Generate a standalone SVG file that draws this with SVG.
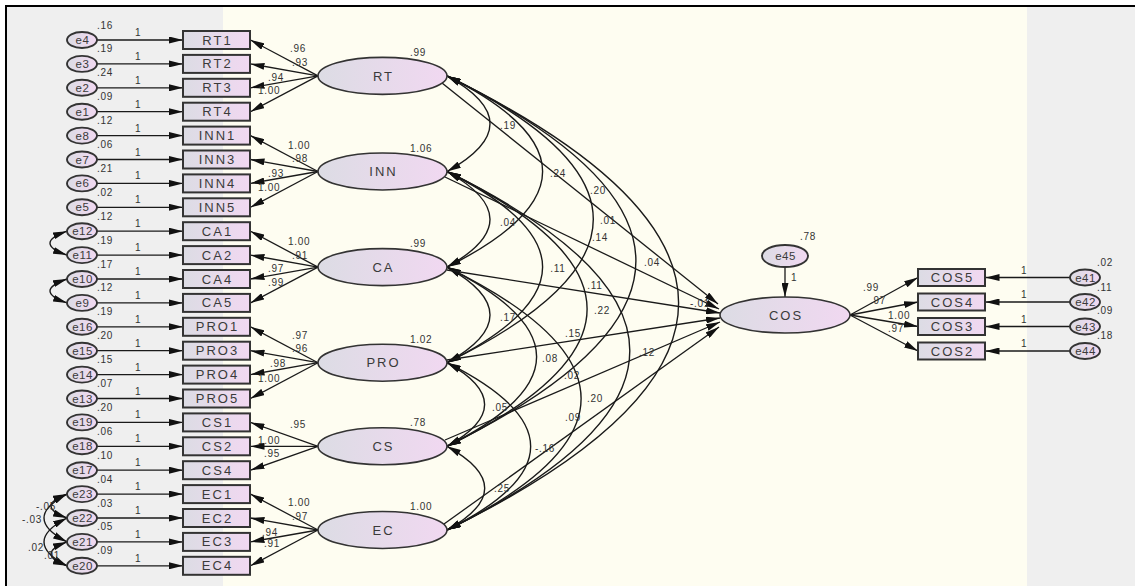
<svg xmlns="http://www.w3.org/2000/svg" width="1135" height="586" viewBox="0 0 1135 586">
<defs>
  <linearGradient id="fillG" x1="0" y1="0" x2="1" y2="0">
    <stop offset="0" stop-color="#dcdce4"/>
    <stop offset="1" stop-color="#f1d8f1"/>
  </linearGradient>
  <marker id="ah" viewBox="0 0 14 7" refX="14" refY="3.5" markerWidth="14" markerHeight="7" markerUnits="userSpaceOnUse" orient="auto-start-reverse">
    <path d="M0,0 L14,3.5 L0,7 z" fill="#111"/>
  </marker>
  <style>
    .box{fill:url(#fillG);stroke:#333;stroke-width:2}
    .lat{fill:url(#fillG);stroke:#333;stroke-width:1.6}
    .err{fill:url(#fillG);stroke:#333;stroke-width:1.9}
    .nm{font-family:"Liberation Sans",Arial,sans-serif;font-size:13px;letter-spacing:2px;fill:#3a3a3a;text-anchor:middle}
    .en{font-family:"Liberation Sans",Arial,sans-serif;font-size:11.5px;letter-spacing:0.5px;fill:#3a3a3a;text-anchor:middle}
    .v{font-family:"Liberation Sans",Arial,sans-serif;font-size:10px;letter-spacing:0.7px;fill:#333}
    .vm{font-family:"Liberation Sans",Arial,sans-serif;font-size:10px;letter-spacing:0.7px;fill:#333;text-anchor:middle}
    .ln{stroke:#1a1a1a;stroke-width:1.3;fill:none;marker-end:url(#ah)}
    .cv{stroke:#1a1a1a;stroke-width:1.4;fill:none;marker-start:url(#ah);marker-end:url(#ah)}
  </style>
</defs>

<!-- canvas and panels -->
<rect x="0" y="0" width="1135" height="586" fill="#ffffff"/>
<rect x="7" y="7" width="216" height="579" fill="#efefef"/>
<rect x="223" y="7" width="804" height="579" fill="#fefdf1"/>
<rect x="1027" y="7" width="108" height="579" fill="#efefef"/>
<path d="M6,586 V6 H1135" fill="none" stroke="#000" stroke-width="2"/>

<!-- connectors -->
<g id="connectors">
  <!-- error terms to indicators -->
  <g>
    <line class="ln" x1="97" y1="40" x2="183" y2="40"/>
    <line class="ln" x1="97" y1="63.9" x2="183" y2="63.9"/>
    <line class="ln" x1="97" y1="87.8" x2="183" y2="87.8"/>
    <line class="ln" x1="97" y1="111.7" x2="183" y2="111.7"/>
    <line class="ln" x1="97" y1="135.6" x2="183" y2="135.6"/>
    <line class="ln" x1="97" y1="159.5" x2="183" y2="159.5"/>
    <line class="ln" x1="97" y1="183.4" x2="183" y2="183.4"/>
    <line class="ln" x1="97" y1="207.3" x2="183" y2="207.3"/>
    <line class="ln" x1="97" y1="231.2" x2="183" y2="231.2"/>
    <line class="ln" x1="97" y1="255.1" x2="183" y2="255.1"/>
    <line class="ln" x1="97" y1="279" x2="183" y2="279"/>
    <line class="ln" x1="97" y1="302.9" x2="183" y2="302.9"/>
    <line class="ln" x1="97" y1="326.8" x2="183" y2="326.8"/>
    <line class="ln" x1="97" y1="350.7" x2="183" y2="350.7"/>
    <line class="ln" x1="97" y1="374.6" x2="183" y2="374.6"/>
    <line class="ln" x1="97" y1="398.5" x2="183" y2="398.5"/>
    <line class="ln" x1="97" y1="422.4" x2="183" y2="422.4"/>
    <line class="ln" x1="97" y1="446.3" x2="183" y2="446.3"/>
    <line class="ln" x1="97" y1="470.2" x2="183" y2="470.2"/>
    <line class="ln" x1="97" y1="494.1" x2="183" y2="494.1"/>
    <line class="ln" x1="97" y1="518" x2="183" y2="518"/>
    <line class="ln" x1="97" y1="541.9" x2="183" y2="541.9"/>
    <line class="ln" x1="97" y1="565.8" x2="183" y2="565.8"/>
  </g>
  <!-- error covariances -->
  <g>
    <path class="cv" d="M67,231.2 Q33,243.2 67,255.1"/>
    <path class="cv" d="M67,279 Q33,291 67,302.9"/>
    <path class="cv" d="M67,494.1 Q35,506 67,518"/>
    <path class="cv" d="M67,494.1 Q21,518 67,541.9"/>
    <path class="cv" d="M67,518 Q21,541.9 67,565.8"/>
    <path class="cv" d="M67,541.9 Q35,553.9 67,565.8"/>
  </g>
  <!-- latent factors to indicators -->
  <g>
    <line class="ln" x1="318" y1="75.9" x2="250.5" y2="40"/>
    <line class="ln" x1="318" y1="75.9" x2="250.5" y2="63.9"/>
    <line class="ln" x1="318" y1="75.9" x2="250.5" y2="87.8"/>
    <line class="ln" x1="318" y1="75.9" x2="250.5" y2="111.7"/>
    <line class="ln" x1="318" y1="171.5" x2="250.5" y2="135.6"/>
    <line class="ln" x1="318" y1="171.5" x2="250.5" y2="159.5"/>
    <line class="ln" x1="318" y1="171.5" x2="250.5" y2="183.4"/>
    <line class="ln" x1="318" y1="171.5" x2="250.5" y2="207.3"/>
    <line class="ln" x1="318" y1="267.1" x2="250.5" y2="231.2"/>
    <line class="ln" x1="318" y1="267.1" x2="250.5" y2="255.1"/>
    <line class="ln" x1="318" y1="267.1" x2="250.5" y2="279"/>
    <line class="ln" x1="318" y1="267.1" x2="250.5" y2="302.9"/>
    <line class="ln" x1="318" y1="362.7" x2="250.5" y2="326.8"/>
    <line class="ln" x1="318" y1="362.7" x2="250.5" y2="350.7"/>
    <line class="ln" x1="318" y1="362.7" x2="250.5" y2="374.6"/>
    <line class="ln" x1="318" y1="362.7" x2="250.5" y2="398.5"/>
    <line class="ln" x1="318" y1="446.3" x2="250.5" y2="422.4"/>
    <line class="ln" x1="318" y1="446.3" x2="250.5" y2="446.3"/>
    <line class="ln" x1="318" y1="446.3" x2="250.5" y2="470.2"/>
    <line class="ln" x1="318" y1="530" x2="250.5" y2="494.1"/>
    <line class="ln" x1="318" y1="530" x2="250.5" y2="518"/>
    <line class="ln" x1="318" y1="530" x2="250.5" y2="541.9"/>
    <line class="ln" x1="318" y1="530" x2="250.5" y2="565.8"/>
  </g>
  <!-- covariances between latent factors -->
  <g>
    <path class="cv" d="M447,75.9 Q533,123.7 447,171.5"/>
    <path class="cv" d="M447,171.5 Q533,219.3 447,267.1"/>
    <path class="cv" d="M447,267.1 Q533,314.9 447,362.7"/>
    <path class="cv" d="M447,362.7 Q522.2,404.5 447,446.3"/>
    <path class="cv" d="M447,446.3 Q522.4,488.2 447,530"/>
    <path class="cv" d="M447,75.9 Q638.2,171.5 447,267.1"/>
    <path class="cv" d="M447,171.5 Q638.2,267.1 447,362.7"/>
    <path class="cv" d="M447,267.1 Q626.2,356.7 447,446.3"/>
    <path class="cv" d="M447,362.7 Q614.3,446.4 447,530"/>
    <path class="cv" d="M447,75.9 Q739.6,219.3 447,362.7"/>
    <path class="cv" d="M447,171.5 Q727.2,308.9 447,446.3"/>
    <path class="cv" d="M447,267.1 Q715.2,398.6 447,530"/>
    <path class="cv" d="M447,75.9 Q824.8,261.1 447,446.3"/>
    <path class="cv" d="M447,171.5 Q812.6,350.8 447,530"/>
    <path class="cv" d="M447,75.9 Q910.2,303 447,530"/>
  </g>
  <!-- structural paths into COS -->
  <g>
    <line class="ln" x1="442" y1="83" x2="718" y2="304"/>
    <line class="ln" x1="445" y1="177" x2="719" y2="309"/>
    <line class="ln" x1="447" y1="270" x2="720" y2="313"/>
    <line class="ln" x1="447" y1="360" x2="720" y2="318"/>
    <line class="ln" x1="445" y1="440" x2="720" y2="322"/>
    <line class="ln" x1="444" y1="524" x2="719" y2="327"/>
    <line class="ln" x1="785" y1="267" x2="785" y2="297"/>
  </g>
  <!-- COS to its indicators, and their error terms -->
  <g>
    <line class="ln" x1="850" y1="315" x2="918" y2="277.5"/>
    <line class="ln" x1="850" y1="315" x2="918" y2="302"/>
    <line class="ln" x1="850" y1="315" x2="918" y2="326.5"/>
    <line class="ln" x1="850" y1="315" x2="918" y2="351"/>
    <line class="ln" x1="1070" y1="277.5" x2="985.5" y2="277.5"/>
    <line class="ln" x1="1070" y1="302" x2="985.5" y2="302"/>
    <line class="ln" x1="1070" y1="326.5" x2="985.5" y2="326.5"/>
    <line class="ln" x1="1070" y1="351" x2="985.5" y2="351"/>
  </g>
</g>

<!-- path and variance estimates -->
<g id="estimates">
  <!-- fixed error weights -->
  <g class="v">
    <text x="135" y="36">1</text><text x="135" y="59.9">1</text><text x="135" y="83.8">1</text><text x="135" y="107.7">1</text>
    <text x="135" y="131.6">1</text><text x="135" y="155.5">1</text><text x="135" y="179.4">1</text><text x="135" y="203.3">1</text>
    <text x="135" y="227.2">1</text><text x="135" y="251.1">1</text><text x="135" y="275">1</text><text x="135" y="298.9">1</text>
    <text x="135" y="322.8">1</text><text x="135" y="346.7">1</text><text x="135" y="370.6">1</text><text x="135" y="394.5">1</text>
    <text x="135" y="418.4">1</text><text x="135" y="442.3">1</text><text x="135" y="466.2">1</text><text x="135" y="490.1">1</text>
    <text x="135" y="514">1</text><text x="135" y="537.9">1</text><text x="135" y="561.8">1</text>
    <text x="1021" y="273.5">1</text><text x="1021" y="298">1</text><text x="1021" y="322.5">1</text><text x="1021" y="347">1</text>
    <text x="791" y="281">1</text>
  </g>
  <!-- error variances -->
  <g class="v">
    <text x="97" y="28.5">.16</text><text x="97" y="52.4">.19</text><text x="97" y="76.3">.24</text><text x="97" y="100.2">.09</text>
    <text x="97" y="124.1">.12</text><text x="97" y="148">.06</text><text x="97" y="171.9">.21</text><text x="97" y="195.8">.02</text>
    <text x="97" y="219.7">.12</text><text x="97" y="243.6">.19</text><text x="97" y="267.5">.17</text><text x="97" y="291.4">.12</text>
    <text x="97" y="315.3">.19</text><text x="97" y="339.2">.20</text><text x="97" y="363.1">.15</text><text x="97" y="387">.07</text>
    <text x="97" y="410.9">.20</text><text x="97" y="434.8">.06</text><text x="97" y="458.7">.10</text><text x="97" y="482.6">.04</text>
    <text x="97" y="506.5">.03</text><text x="97" y="530.4">.05</text><text x="97" y="554.3">.09</text>
    <text x="1097" y="265.5">.02</text><text x="1097" y="290.5">.11</text><text x="1097" y="313.5">.09</text><text x="1097" y="338.5">.18</text>
    <text x="800" y="240">.78</text>
  </g>
  <!-- error covariances -->
  <g class="v">
    <text x="36" y="510">-.05</text>
    <text x="22" y="523">-.03</text>
    <text x="28" y="551">.02</text>
    <text x="44" y="559">.01</text>
  </g>
  <!-- factor loadings -->
  <g class="v">
    <text x="290" y="52">.96</text><text x="292" y="66">.93</text><text x="268" y="80.5">.94</text><text x="258" y="93.5">1.00</text>
    <text x="288" y="148.5">1.00</text><text x="292" y="161.5">.98</text><text x="268" y="176.5">.93</text><text x="258" y="191">1.00</text>
    <text x="288" y="244.5">1.00</text><text x="292" y="258.5">.91</text><text x="268" y="271.5">.97</text><text x="268" y="285.5">.99</text>
    <text x="292" y="338.5">.97</text><text x="292" y="351.5">.96</text><text x="270" y="366.5">.98</text><text x="258" y="381.5">1.00</text>
    <text x="290" y="427.5">.95</text><text x="258" y="443.5">1.00</text><text x="264" y="456.5">.95</text>
    <text x="288" y="505.5">1.00</text><text x="292" y="519.5">.97</text><text x="262" y="535.5">.94</text><text x="264" y="546.5">.91</text>
    <text x="863" y="290.5">.99</text><text x="870" y="303.5">.97</text><text x="888" y="318.5">1.00</text><text x="888" y="331.5">.97</text>
  </g>
  <!-- factor variances -->
  <g class="v">
    <text x="410" y="56">.99</text>
    <text x="410" y="151.5">1.06</text>
    <text x="410" y="247">.99</text>
    <text x="410" y="342.5">1.02</text>
    <text x="410" y="425.5">.78</text>
    <text x="410" y="509.5">1.00</text>
  </g>
  <!-- covariances and structural weights -->
  <g class="vm">
    <text x="508" y="128.5">.19</text>
    <text x="508" y="225.5">.04</text>
    <text x="508" y="320.5">.17</text>
    <text x="500" y="410.5">.05</text>
    <text x="502" y="491.5">.25</text>
    <text x="558" y="176.5">.24</text>
    <text x="558" y="271.5">.11</text>
    <text x="550" y="361.5">.08</text>
    <text x="545" y="451.5">-.16</text>
    <text x="608" y="223.5">.01</text>
    <text x="602" y="313.5">.22</text>
    <text x="595" y="401.5">.20</text>
    <text x="652" y="265.5">.04</text>
    <text x="647" y="355.5">.12</text>
    <text x="700" y="306.5">-.01</text>
    <text x="598" y="193.5">.20</text>
    <text x="600" y="240.5">.14</text>
    <text x="595" y="288.5">.11</text>
    <text x="573" y="336.5">.15</text>
    <text x="572" y="378.5">.02</text>
    <text x="573" y="420.5">.09</text>
  </g>
</g>

<!-- error terms, left -->
<g id="e4"><ellipse class="err" cx="82" cy="40" rx="15" ry="8"/><text class="en" x="82.5" y="44">e4</text></g>
<g id="e3"><ellipse class="err" cx="82" cy="63.9" rx="15" ry="8"/><text class="en" x="82.5" y="67.9">e3</text></g>
<g id="e2"><ellipse class="err" cx="82" cy="87.8" rx="15" ry="8"/><text class="en" x="82.5" y="91.8">e2</text></g>
<g id="e1"><ellipse class="err" cx="82" cy="111.7" rx="15" ry="8"/><text class="en" x="82.5" y="115.7">e1</text></g>
<g id="e8"><ellipse class="err" cx="82" cy="135.6" rx="15" ry="8"/><text class="en" x="82.5" y="139.6">e8</text></g>
<g id="e7"><ellipse class="err" cx="82" cy="159.5" rx="15" ry="8"/><text class="en" x="82.5" y="163.5">e7</text></g>
<g id="e6"><ellipse class="err" cx="82" cy="183.4" rx="15" ry="8"/><text class="en" x="82.5" y="187.4">e6</text></g>
<g id="e5"><ellipse class="err" cx="82" cy="207.3" rx="15" ry="8"/><text class="en" x="82.5" y="211.3">e5</text></g>
<g id="e12"><ellipse class="err" cx="82" cy="231.2" rx="15" ry="8"/><text class="en" x="82.5" y="235.2">e12</text></g>
<g id="e11"><ellipse class="err" cx="82" cy="255.1" rx="15" ry="8"/><text class="en" x="82.5" y="259.1">e11</text></g>
<g id="e10"><ellipse class="err" cx="82" cy="279" rx="15" ry="8"/><text class="en" x="82.5" y="283">e10</text></g>
<g id="e9"><ellipse class="err" cx="82" cy="302.9" rx="15" ry="8"/><text class="en" x="82.5" y="306.9">e9</text></g>
<g id="e16"><ellipse class="err" cx="82" cy="326.8" rx="15" ry="8"/><text class="en" x="82.5" y="330.8">e16</text></g>
<g id="e15"><ellipse class="err" cx="82" cy="350.7" rx="15" ry="8"/><text class="en" x="82.5" y="354.7">e15</text></g>
<g id="e14"><ellipse class="err" cx="82" cy="374.6" rx="15" ry="8"/><text class="en" x="82.5" y="378.6">e14</text></g>
<g id="e13"><ellipse class="err" cx="82" cy="398.5" rx="15" ry="8"/><text class="en" x="82.5" y="402.5">e13</text></g>
<g id="e19"><ellipse class="err" cx="82" cy="422.4" rx="15" ry="8"/><text class="en" x="82.5" y="426.4">e19</text></g>
<g id="e18"><ellipse class="err" cx="82" cy="446.3" rx="15" ry="8"/><text class="en" x="82.5" y="450.3">e18</text></g>
<g id="e17"><ellipse class="err" cx="82" cy="470.2" rx="15" ry="8"/><text class="en" x="82.5" y="474.2">e17</text></g>
<g id="e23"><ellipse class="err" cx="82" cy="494.1" rx="15" ry="8"/><text class="en" x="82.5" y="498.1">e23</text></g>
<g id="e22"><ellipse class="err" cx="82" cy="518" rx="15" ry="8"/><text class="en" x="82.5" y="522">e22</text></g>
<g id="e21"><ellipse class="err" cx="82" cy="541.9" rx="15" ry="8"/><text class="en" x="82.5" y="545.9">e21</text></g>
<g id="e20"><ellipse class="err" cx="82" cy="565.8" rx="15" ry="8"/><text class="en" x="82.5" y="569.8">e20</text></g>

<!-- observed indicators, left -->
<g id="RT1"><rect class="box" x="183" y="31" width="67" height="18"/><text class="nm" x="217.5" y="44.5">RT1</text></g>
<g id="RT2"><rect class="box" x="183" y="54.9" width="67" height="18"/><text class="nm" x="217.5" y="68.4">RT2</text></g>
<g id="RT3"><rect class="box" x="183" y="78.8" width="67" height="18"/><text class="nm" x="217.5" y="92.3">RT3</text></g>
<g id="RT4"><rect class="box" x="183" y="102.7" width="67" height="18"/><text class="nm" x="217.5" y="116.2">RT4</text></g>
<g id="INN1"><rect class="box" x="183" y="126.6" width="67" height="18"/><text class="nm" x="217.5" y="140.1">INN1</text></g>
<g id="INN3"><rect class="box" x="183" y="150.5" width="67" height="18"/><text class="nm" x="217.5" y="164">INN3</text></g>
<g id="INN4"><rect class="box" x="183" y="174.4" width="67" height="18"/><text class="nm" x="217.5" y="187.9">INN4</text></g>
<g id="INN5"><rect class="box" x="183" y="198.3" width="67" height="18"/><text class="nm" x="217.5" y="211.8">INN5</text></g>
<g id="CA1"><rect class="box" x="183" y="222.2" width="67" height="18"/><text class="nm" x="217.5" y="235.7">CA1</text></g>
<g id="CA2"><rect class="box" x="183" y="246.1" width="67" height="18"/><text class="nm" x="217.5" y="259.6">CA2</text></g>
<g id="CA4"><rect class="box" x="183" y="270" width="67" height="18"/><text class="nm" x="217.5" y="283.5">CA4</text></g>
<g id="CA5"><rect class="box" x="183" y="293.9" width="67" height="18"/><text class="nm" x="217.5" y="307.4">CA5</text></g>
<g id="PRO1"><rect class="box" x="183" y="317.8" width="67" height="18"/><text class="nm" x="217.5" y="331.3">PRO1</text></g>
<g id="PRO3"><rect class="box" x="183" y="341.7" width="67" height="18"/><text class="nm" x="217.5" y="355.2">PRO3</text></g>
<g id="PRO4"><rect class="box" x="183" y="365.6" width="67" height="18"/><text class="nm" x="217.5" y="379.1">PRO4</text></g>
<g id="PRO5"><rect class="box" x="183" y="389.5" width="67" height="18"/><text class="nm" x="217.5" y="403">PRO5</text></g>
<g id="CS1"><rect class="box" x="183" y="413.4" width="67" height="18"/><text class="nm" x="217.5" y="426.9">CS1</text></g>
<g id="CS2"><rect class="box" x="183" y="437.3" width="67" height="18"/><text class="nm" x="217.5" y="450.8">CS2</text></g>
<g id="CS4"><rect class="box" x="183" y="461.2" width="67" height="18"/><text class="nm" x="217.5" y="474.7">CS4</text></g>
<g id="EC1"><rect class="box" x="183" y="485.1" width="67" height="18"/><text class="nm" x="217.5" y="498.6">EC1</text></g>
<g id="EC2"><rect class="box" x="183" y="509" width="67" height="18"/><text class="nm" x="217.5" y="522.5">EC2</text></g>
<g id="EC3"><rect class="box" x="183" y="532.9" width="67" height="18"/><text class="nm" x="217.5" y="546.4">EC3</text></g>
<g id="EC4"><rect class="box" x="183" y="556.8" width="67" height="18"/><text class="nm" x="217.5" y="570.3">EC4</text></g>

<!-- latent factors -->
<g id="RT"><ellipse class="lat" cx="382.5" cy="75.9" rx="64.5" ry="18.5"/><text class="nm" x="383.5" y="80.5">RT</text></g>
<g id="INN"><ellipse class="lat" cx="382.5" cy="171.5" rx="64.5" ry="18.5"/><text class="nm" x="383.5" y="176">INN</text></g>
<g id="CA"><ellipse class="lat" cx="382.5" cy="267.1" rx="64.5" ry="18.5"/><text class="nm" x="383.5" y="271.6">CA</text></g>
<g id="PRO"><ellipse class="lat" cx="382.5" cy="362.7" rx="64.5" ry="18.5"/><text class="nm" x="383.5" y="367.2">PRO</text></g>
<g id="CS"><ellipse class="lat" cx="382.5" cy="446.3" rx="64.5" ry="18.5"/><text class="nm" x="383.5" y="450.8">CS</text></g>
<g id="EC"><ellipse class="lat" cx="382.5" cy="530" rx="64.5" ry="18.5"/><text class="nm" x="383.5" y="534.5">EC</text></g>

<!-- outcome factor and its disturbance -->
<g id="COS"><ellipse class="lat" cx="785" cy="315" rx="65" ry="18"/><text class="nm" x="786" y="319.5">COS</text></g>
<g id="e45"><ellipse class="err" cx="785" cy="256" rx="23" ry="11"/><text class="en" x="785.5" y="260">e45</text></g>

<!-- outcome indicators -->
<g id="COS5"><rect class="box" x="918" y="269" width="67" height="17"/><text class="nm" x="952.5" y="282">COS5</text></g>
<g id="COS4"><rect class="box" x="918" y="293.5" width="67" height="17"/><text class="nm" x="952.5" y="306.5">COS4</text></g>
<g id="COS3"><rect class="box" x="918" y="318" width="67" height="17"/><text class="nm" x="952.5" y="331">COS3</text></g>
<g id="COS2"><rect class="box" x="918" y="342.5" width="67" height="17"/><text class="nm" x="952.5" y="355.5">COS2</text></g>

<!-- error terms, right -->
<g id="e41"><ellipse class="err" cx="1085" cy="277.5" rx="15" ry="8"/><text class="en" x="1085.5" y="281.5">e41</text></g>
<g id="e42"><ellipse class="err" cx="1085" cy="302" rx="15" ry="8"/><text class="en" x="1085.5" y="306">e42</text></g>
<g id="e43"><ellipse class="err" cx="1085" cy="326.5" rx="15" ry="8"/><text class="en" x="1085.5" y="330.5">e43</text></g>
<g id="e44"><ellipse class="err" cx="1085" cy="351" rx="15" ry="8"/><text class="en" x="1085.5" y="355">e44</text></g>
</svg>
